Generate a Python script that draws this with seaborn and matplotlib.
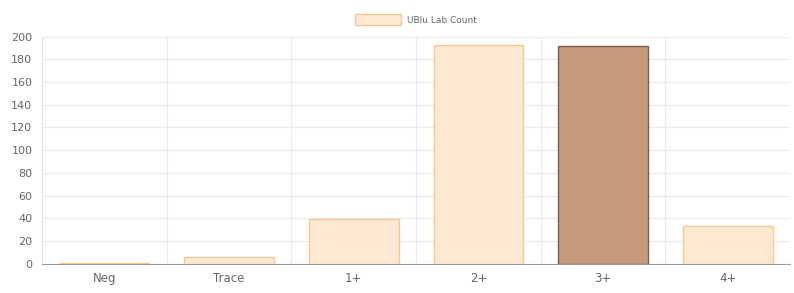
import numpy as np
import pandas as pd
import matplotlib.pyplot as plt
import seaborn as sns
from matplotlib.patches import Patch

categories = ["Neg", "Trace", "1+", "2+", "3+", "4+"]
counts = [1, 6, 39, 193, 192, 33]
series_name = "UBlu Lab Count"

fills = ["#FFE9D4", "#FFE9D4", "#FFE9D4", "#FFE9D4", "#C49A7A", "#FFE9D4"]
edges = ["#F6C795", "#F6C795", "#F6C795", "#F6C795", "#7E5E4A", "#F6C795"]

sns.set_style("white")
plt.rcParams['font.family'] = ['DejaVu Sans']

df = pd.DataFrame({"cat": categories, "count": counts})

fig = plt.figure(figsize=(7.94, 2.93), dpi=100)
ax = fig.add_axes([0.053, 0.10, 0.942, 0.775])

sns.barplot(data=df, x="cat", y="count", hue="cat", palette=fills,
            saturation=1, legend=False, width=0.72, ax=ax, zorder=3)
for patch, ec in zip(ax.patches, edges):
    patch.set_edgecolor(ec)
    patch.set_linewidth(1.0)

ax.set_ylim(0, 200)
ax.set_xlim(-0.5, len(categories) - 0.5)
ax.set_yticks(np.arange(0, 201, 20))
ax.set_xlabel("")
ax.set_ylabel("")

# grid: horizontal at ticks, vertical at category boundaries
for y in np.arange(20, 201, 20):
    ax.axhline(y, color="#EBEBEB", lw=0.8, zorder=0)
for x in np.arange(0.5, len(categories) - 0.5, 1):
    ax.axvline(x, color="#EBEBEB", lw=0.8, zorder=0)

for s in ["top", "right"]:
    ax.spines[s].set_visible(False)
ax.spines["left"].set_color("#E0E0E0")
ax.spines["bottom"].set_color("#9A9A9A")
ax.tick_params(axis="y", length=5, color="#E0E0E0", labelsize=8, labelcolor="#666666", pad=2)
ax.tick_params(axis="x", length=0, labelsize=8.5, labelcolor="#666666", pad=6)

ax.legend(handles=[Patch(facecolor=fills[0], edgecolor=edges[0], label=series_name)],
          loc="lower center", bbox_to_anchor=(0.5, 1.015), frameon=False,
          fontsize=6.5, handlelength=5.0, handleheight=1.5, handletextpad=0.7,
          labelcolor="#666666")

fig.savefig("out.png", dpi=100)
